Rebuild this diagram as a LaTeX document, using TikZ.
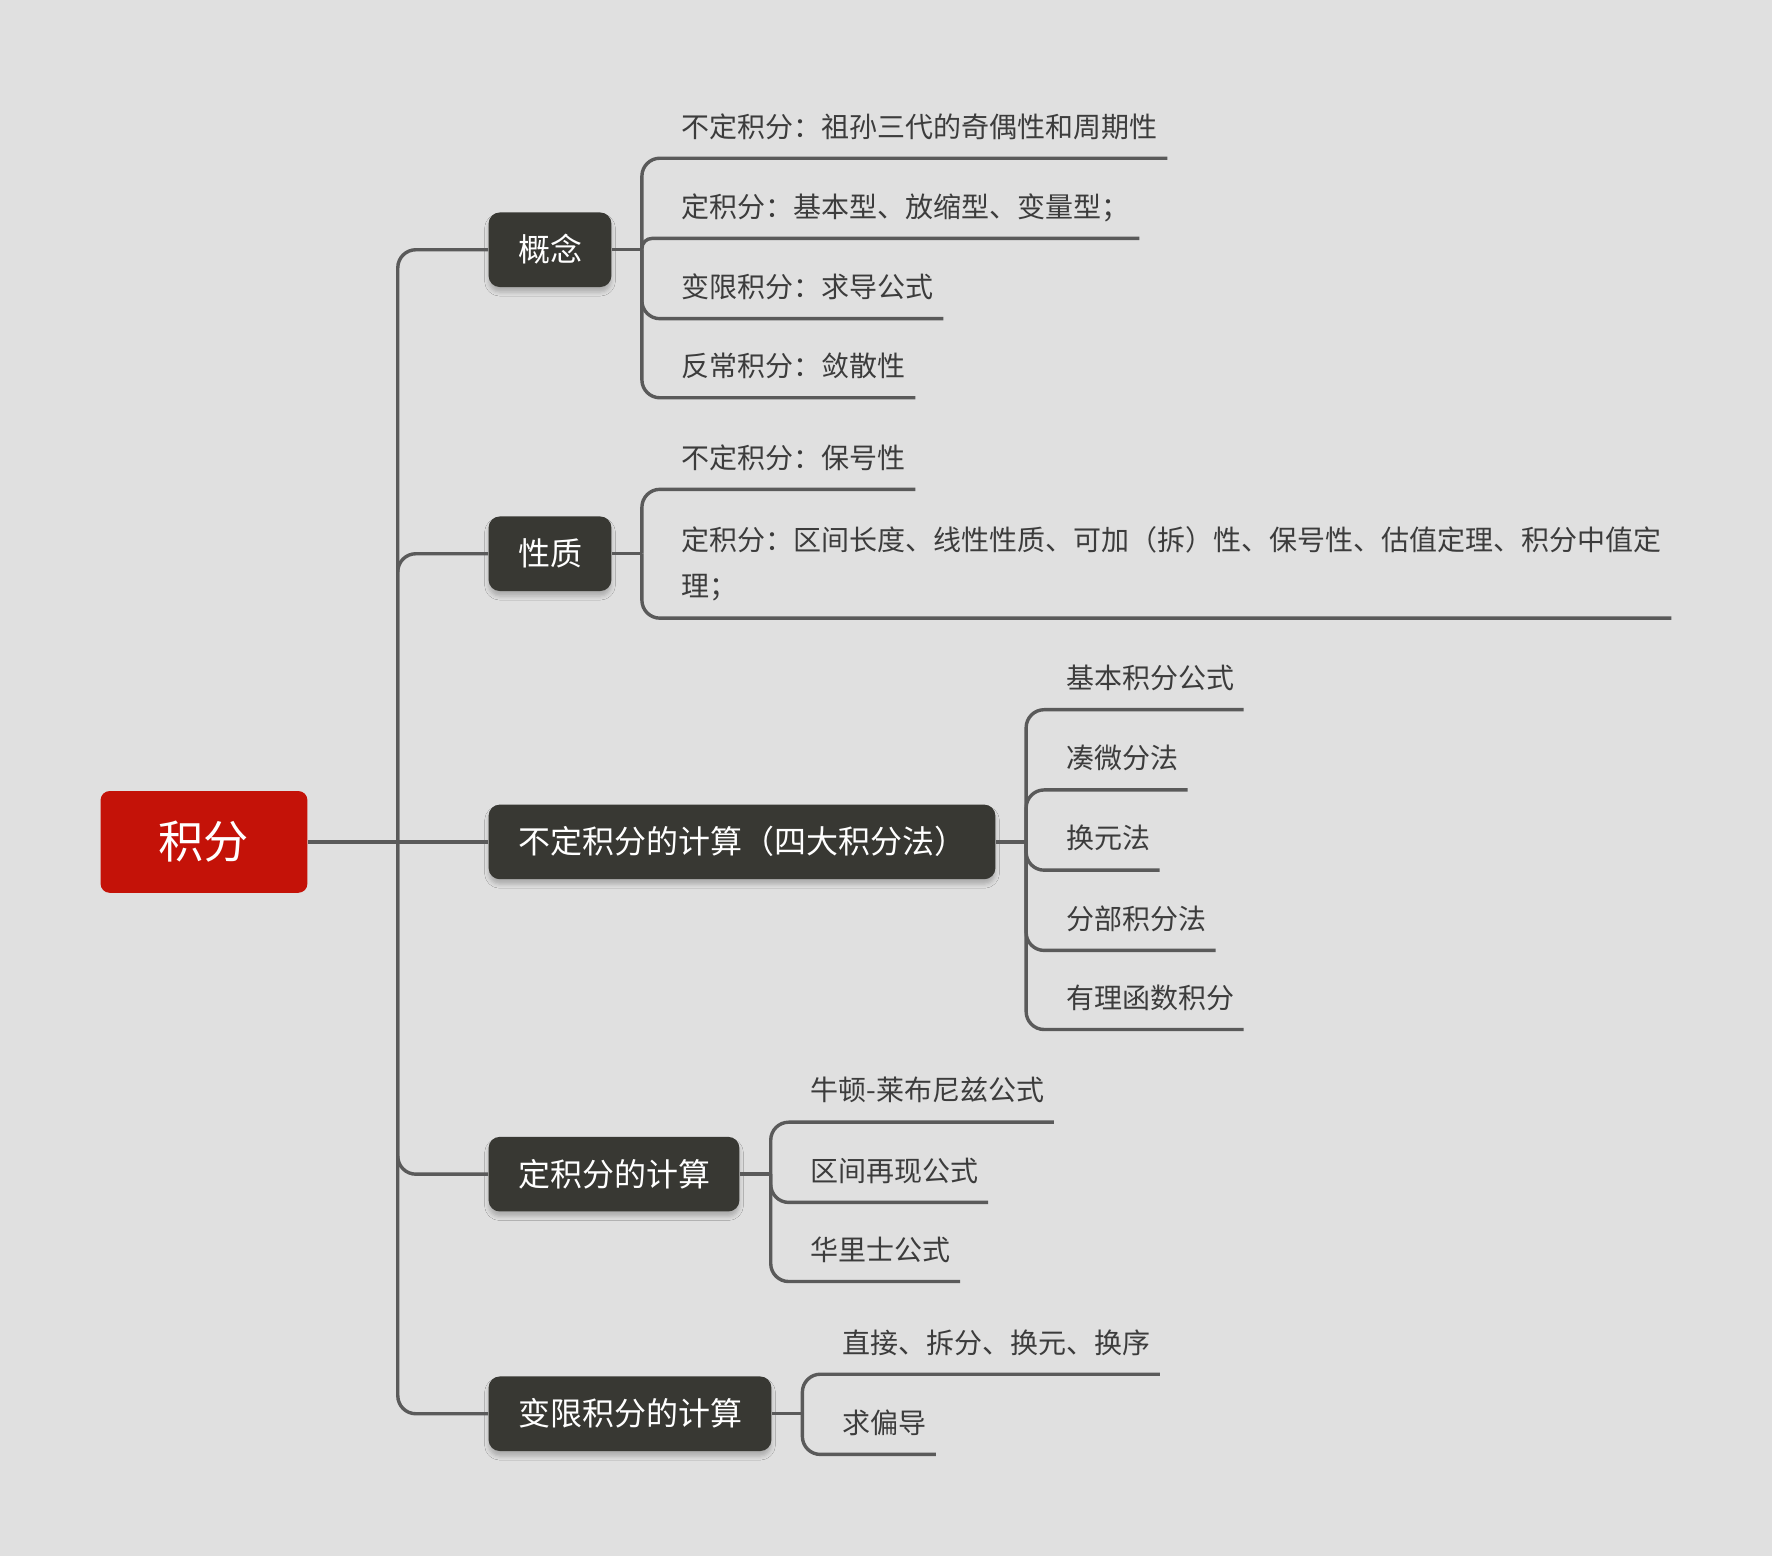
\documentclass[tikz,border=0pt]{standalone}
\usepackage{fontspec}
\setmainfont{Noto Sans CJK SC}
\usetikzlibrary{shadows.blur}
\definecolor{bg}{HTML}{E0E0E0}
\definecolor{ln}{HTML}{5A5A5A}
\definecolor{dk}{HTML}{383833}
\definecolor{rd}{HTML}{C41208}
\definecolor{tx}{HTML}{3C3C3C}
\newcommand\lfstrut{\rule[-10.4pt]{0pt}{10.4pt}}
\begin{document}
\begin{tikzpicture}[x=0.56505pt, y=-0.56505pt,
  conn/.style={draw=ln, line width=1.7pt, rounded corners=9pt},
  rootbox/.style={fill=rd, rounded corners=4.5pt, minimum width=103.4pt, minimum height=50.85pt, text=white, font=\fontsize{22.6}{26}\selectfont, inner sep=0pt, text height=18.3pt, text depth=1.6pt},
  topic/.style={fill=dk, rounded corners=5.6pt, minimum height=37.3pt, inner xsep=14.7pt, inner ysep=0pt, text=white, font=\fontsize{16}{19}\selectfont, text height=12.96pt, text depth=1.12pt, anchor=west, blur shadow={shadow xshift=0pt, shadow yshift=-2.5pt, shadow blur radius=2pt, shadow opacity=22}},
  leaf/.style={anchor=south west, inner sep=0pt, text=tx, font=\fontsize{14}{23.2}\selectfont, align=left},
]
\fill[bg] (0,0) rectangle (1568,1377);
\useasboundingbox (0,0) rectangle (1568,1377);

% root and topics
\node[rootbox] (root) at (180.5,745) {积分};
\node[topic] (g1) at (432,221) {概念};
\node[topic] (g2) at (432,490) {性质};
\node[topic] (g3) at (432,745) {不定积分的计算（四大积分法）};
\node[topic] (g4) at (432,1039) {定积分的计算};
\node[topic] (g5) at (432,1251) {变限积分的计算};

% junctions
\coordinate (jr) at (352,745);
\coordinate (j1) at (568,221);
\coordinate (j2) at (568,490);
\coordinate (j3) at (908,745);
\coordinate (j4) at (682,1039);
\coordinate (j5) at (710,1251);

% leaves
\node[leaf] (a1) at (603,140) {不定积分：祖孙三代的奇偶性和周期性\lfstrut};
\node[leaf] (a2) at (603,211) {定积分：基本型、放缩型、变量型；\lfstrut};
\node[leaf] (a3) at (603,282) {变限积分：求导公式\lfstrut};
\node[leaf] (a4) at (603,352) {反常积分：敛散性\lfstrut};
\node[leaf] (b1) at (603,433) {不定积分：保号性\lfstrut};
\node[leaf] (b2) at (603,547) {定积分：区间长度、线性性质、可加（拆）性、保号性、估值定理、积分中值定\\理；\lfstrut};
\node[leaf] (c1) at (943,628) {基本积分公式\lfstrut};
\node[leaf] (c2) at (943,699) {凑微分法\lfstrut};
\node[leaf] (c3) at (943,770) {换元法\lfstrut};
\node[leaf] (c4) at (943,841) {分部积分法\lfstrut};
\node[leaf] (c5) at (943,911) {有理函数积分\lfstrut};
\node[leaf] (d1) at (717,993) {牛顿-莱布尼兹公式\lfstrut};
\node[leaf] (d2) at (717,1064) {区间再现公式\lfstrut};
\node[leaf] (d3) at (717,1134) {华里士公式\lfstrut};
\node[leaf] (e1) at (745,1216) {直接、拆分、换元、换序\lfstrut};
\node[leaf] (e2) at (745,1287) {求偏导\lfstrut};

% trunk
\draw[conn] (root.east) -- (g3.west);
\draw[conn] (jr) |- (g1.west);
\draw[conn] (jr) |- (g2.west);
\draw[conn] (jr) |- (g4.west);
\draw[conn] (jr) |- (g5.west);

% stubs
\draw[conn] (g1.east) -- (j1);
\draw[conn] (g2.east) -- (j2);
\draw[conn] (g3.east) -- (j3);
\draw[conn] (g4.east) -- (j4);
\draw[conn] (g5.east) -- (j5);

% leaf connectors
\draw[conn] (j1) |- ([xshift=4.52pt]a1.south east);
\draw[conn, rounded corners=5pt] (j1) |- ([xshift=4.52pt]a2.south east);
\draw[conn] (j1) |- ([xshift=4.52pt]a3.south east);
\draw[conn] (j1) |- ([xshift=4.52pt]a4.south east);
\draw[conn] (j2) |- ([xshift=4.52pt]b1.south east);
\draw[conn] (j2) |- ([xshift=4.52pt]b2.south east);
\draw[conn] (j3) |- ([xshift=4.52pt]c1.south east);
\draw[conn] (j3) |- ([xshift=4.52pt]c2.south east);
\draw[conn] (j3) |- ([xshift=4.52pt]c3.south east);
\draw[conn] (j3) |- ([xshift=4.52pt]c4.south east);
\draw[conn] (j3) |- ([xshift=4.52pt]c5.south east);
\draw[conn] (j4) |- ([xshift=4.52pt]d1.south east);
\draw[conn] (j4) |- ([xshift=4.52pt]d2.south east);
\draw[conn] (j4) |- ([xshift=4.52pt]d3.south east);
\draw[conn] (j5) |- ([xshift=4.52pt]e1.south east);
\draw[conn] (j5) |- ([xshift=4.52pt]e2.south east);
\end{tikzpicture}
\end{document}
